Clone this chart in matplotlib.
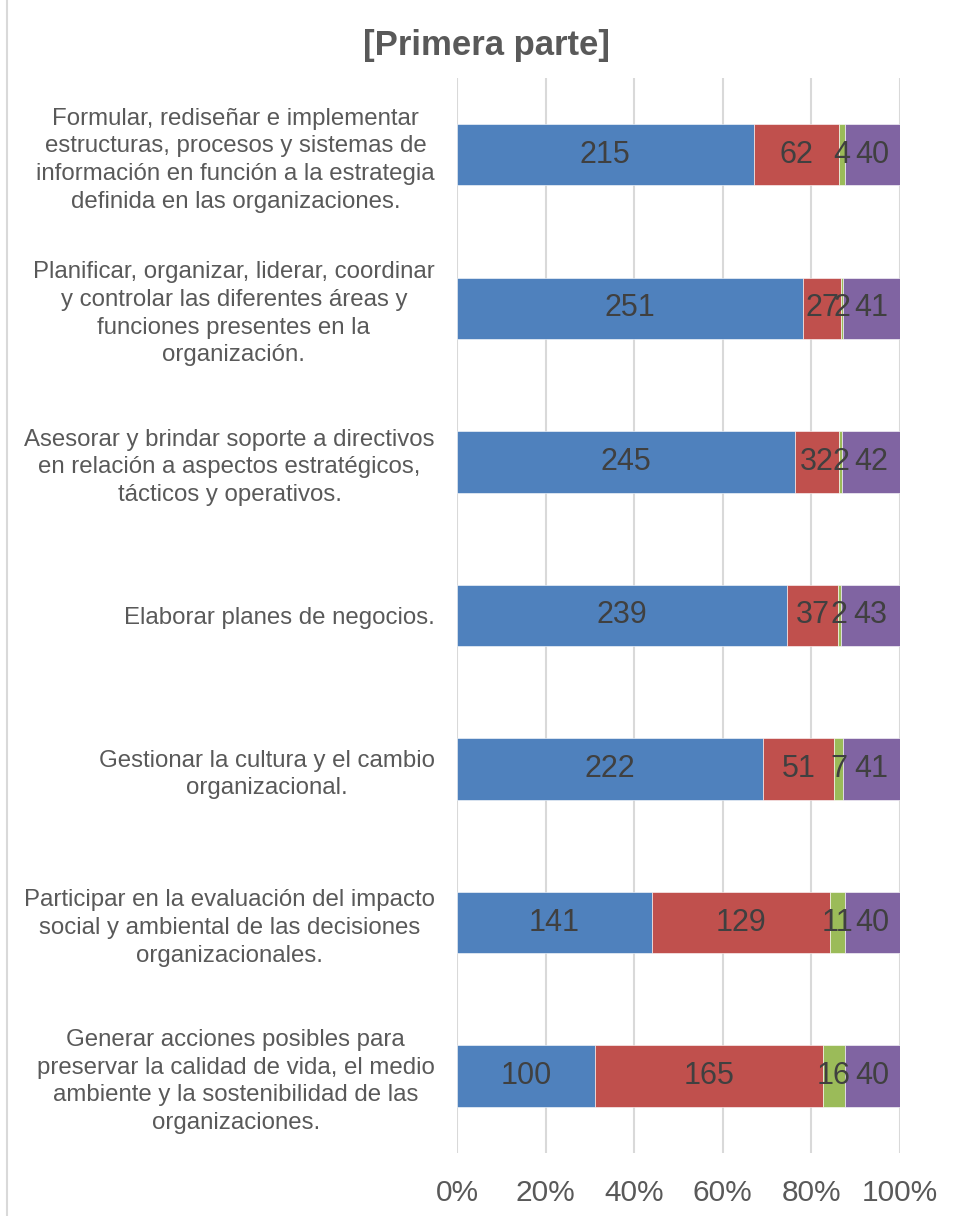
import matplotlib
matplotlib.use("Agg")
import matplotlib.pyplot as plt
from matplotlib.lines import Line2D
import numpy as np

categories = [
    "Formular, rediseñar e implementar\nestructuras, procesos y sistemas de\ninformación en función a la estrategia\ndefinida en las organizaciones.",
    "Planificar, organizar, liderar, coordinar\ny controlar las diferentes áreas y\nfunciones presentes en la\norganización.",
    "Asesorar y brindar soporte a directivos\nen relación a aspectos estratégicos,\ntácticos y operativos.",
    "Elaborar planes de negocios.",
    "Gestionar la cultura y el cambio\norganizacional.",
    "Participar en la evaluación del impacto\nsocial y ambiental de las decisiones\norganizacionales.",
    "Generar acciones posibles para\npreservar la calidad de vida, el medio\nambiente y la sostenibilidad de las\norganizaciones.",
]
serie_1 = [215, 251, 245, 239, 222, 141, 100]
serie_2 = [62, 27, 32, 37, 51, 129, 165]
serie_3 = [4, 2, 2, 2, 7, 11, 16]
serie_4 = [40, 41, 42, 43, 41, 40, 40]
series = [serie_1, serie_2, serie_3, serie_4]
colors = ["#4F81BD", "#C0504D", "#9BBB59", "#8064A2"]
tick_values = [0, 0.2, 0.4, 0.6, 0.8, 1.0]
tick_labels = ["0%", "20%", "40%", "60%", "80%", "100%"]
title = "[Primera parte]"

plt.rcParams['font.family'] = ['Liberation Sans', 'DejaVu Sans']

fig = plt.figure(figsize=(9.57, 12.16), dpi=100)
ax = fig.add_axes([457/957, 1 - 1153/1216, (900-457)/957, (1153-78)/1216])

data = np.array(series, dtype=float)
totals = data.sum(axis=0)
y = np.arange(len(categories))
left = np.zeros(len(categories))
for vals, col in zip(data, colors):
    frac = vals / totals
    ax.barh(y, frac, left=left, height=0.4, color=col,
            edgecolor="white", linewidth=0.4, zorder=3)
    for yi, l, f, v in zip(y, left, frac, vals):
        ax.text(l + f / 2, yi, f"{int(v)}", ha="center", va="center",
                fontsize=22, color="#404040", zorder=4)
    left += frac

ax.set_xlim(0, 1)
ax.set_ylim(len(categories) - 0.5, -0.5)
ax.set_xticks(tick_values)
ax.set_xticklabels(tick_labels, fontsize=21.5, color="#595959")
ax.set_yticks(y)
ax.set_yticklabels(categories, fontsize=17.3, color="#595959",
                   multialignment="center", linespacing=1.34)
ax.tick_params(axis="both", length=0)
ax.tick_params(axis="x", pad=19)
ax.tick_params(axis="y", pad=16)
ax.grid(axis="x", color="#D9D9D9", linewidth=1.5, zorder=0)
for s in ax.spines.values():
    s.set_visible(False)

fig.text(487/957, 1 - 45/1216, title, ha="center", va="center",
         fontsize=25, fontweight="bold", color="#595959")
fig.add_artist(Line2D([7.5/957, 7.5/957], [0, 1], color="#D9D9D9",
                      linewidth=1.5, transform=fig.transFigure))

fig.savefig("out.png", dpi=100, facecolor="white")
